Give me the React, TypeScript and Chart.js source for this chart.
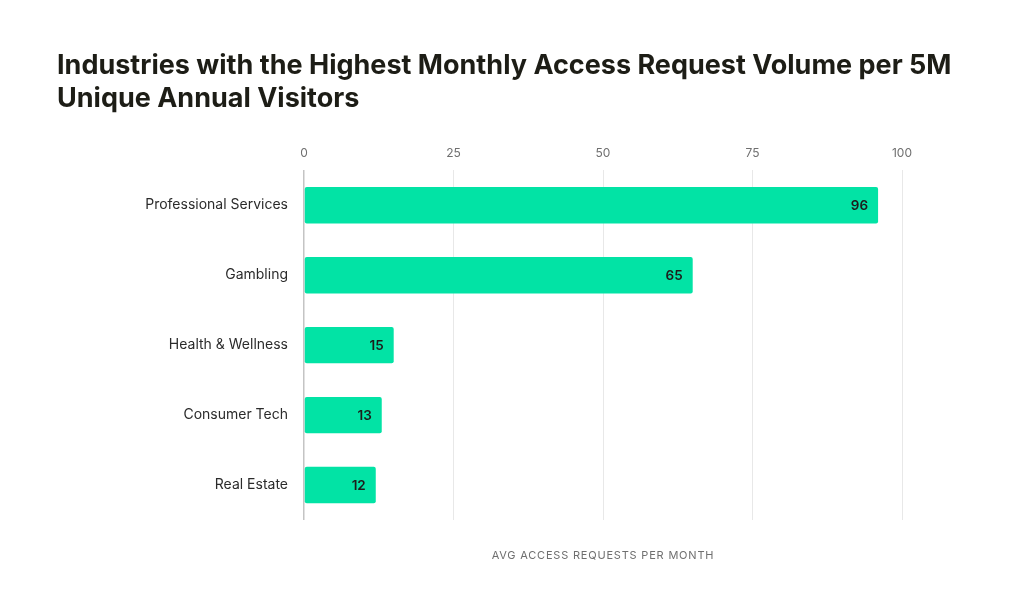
import React, { useEffect, useRef } from "react";
import { Chart, registerables } from "chart.js";

Chart.register(...registerables);

const categories = ["Professional Services", "Gambling", "Health & Wellness", "Consumer Tech", "Real Estate"];
const values = [96, 65, 15, 13, 12];
const tickValues = [0, 25, 50, 75, 100];
const titleLines = ["Industries with the Highest Monthly Access Request Volume per 5M", "Unique Annual Visitors"];
const axisTitle = "AVG ACCESS REQUESTS PER MONTH";

const FONT = "Inter, 'DejaVu Sans', sans-serif";

const valueLabelPlugin = {
  id: "valueLabels",
  afterDatasetsDraw(chart: any) {
    const { ctx } = chart;
    const meta = chart.getDatasetMeta(0);
    ctx.save();
    ctx.font = `600 13.5px ${FONT}`;
    ctx.fillStyle = "#1d1d1b";
    ctx.textAlign = "right";
    ctx.textBaseline = "middle";
    meta.data.forEach((bar: any, i: number) => {
      ctx.fillText(String(values[i]), bar.x - 10, bar.y + 1);
    });
    ctx.restore();
  },
};

const axisTitlePlugin = {
  id: "bottomAxisTitle",
  afterDraw(chart: any) {
    const { ctx, chartArea } = chart;
    ctx.save();
    ctx.font = `400 11px ${FONT}`;
    (ctx as any).letterSpacing = "0.8px";
    ctx.fillStyle = "#6f6f6f";
    ctx.textAlign = "center";
    ctx.textBaseline = "middle";
    ctx.fillText(axisTitle, (chartArea.left + chartArea.right) / 2, chartArea.bottom + 36);
    ctx.restore();
  },
};

export default function App() {
  const ref = useRef<HTMLCanvasElement>(null);
  useEffect(() => {
    document.body.style.margin = "0";
    const chart = new Chart(ref.current!, {
      type: "bar",
      data: {
        labels: categories,
        datasets: [
          {
            data: values,
            backgroundColor: "#02E3A5",
            borderRadius: 2,
            borderSkipped: false,
            barPercentage: 0.52,
            categoryPercentage: 1,
          },
        ],
      },
      options: {
        indexAxis: "y",
        responsive: false,
        animation: false,
        layout: { padding: { left: 57, right: 0, top: 49, bottom: 85 } },
        plugins: {
          legend: { display: false },
          tooltip: { enabled: false },
          title: {
            display: true,
            text: titleLines,
            align: "start",
            color: "#1d1d16",
            font: { family: FONT, size: 27, weight: "700", lineHeight: 1.22 },
            padding: { top: 0, bottom: 21 },
          },
        },
        scales: {
          x: {
            position: "top",
            min: 0,
            max: 100,
            afterBuildTicks(scale: any) {
              scale.ticks = tickValues.map((v) => ({ value: v }));
            },
            ticks: {
              color: "#6f6f6f",
              font: { family: FONT, size: 12 },
              padding: 10,
            },
            grid: {
              drawTicks: false,
              color: (c: any) => (c.tick && c.tick.value === 0 ? "#c4c4c4" : "#e8e8e8"),
              lineWidth: (c: any) => (c.tick && c.tick.value === 0 ? 1.5 : 1),
            },
            border: { display: false },
          },
          y: {
            afterFit(scale: any) {
              scale.width = 304 - 57;
            },
            ticks: {
              color: "#2b2b2b",
              font: { family: FONT, size: 14 },
              padding: 8,
            },
            grid: { display: false },
            border: { display: false },
          },
          spacer: {
            type: "linear",
            position: "right",
            display: true,
            ticks: { display: false },
            grid: { display: false },
            border: { display: false },
            afterFit(scale: any) {
              scale.width = 1024 - 902;
            },
          },
        },
      },
      plugins: [valueLabelPlugin, axisTitlePlugin],
    });
    return () => chart.destroy();
  }, []);
  return (
    <div style={{ width: 1024, height: 605, background: "#fff" }}>
      <canvas ref={ref} width={1024} height={605} />
    </div>
  );
}
